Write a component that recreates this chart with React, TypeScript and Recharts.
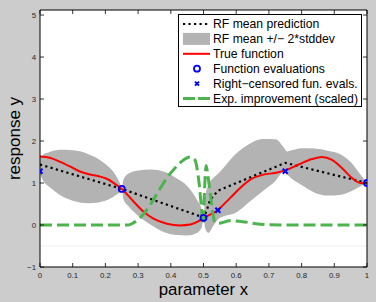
import React from 'react';
import { ComposedChart, Area, Line, Scatter, XAxis, YAxis, CartesianGrid, ReferenceLine } from 'recharts';

const bandX = [0, 0.01, 0.03, 0.06, 0.1, 0.15, 0.2, 0.23, 0.245, 0.25, 0.255, 0.27, 0.3, 0.34, 0.38, 0.42, 0.45, 0.48, 0.495, 0.5, 0.505, 0.515, 0.53, 0.545, 0.56, 0.6, 0.64, 0.68, 0.72, 0.745, 0.755, 0.77, 0.8, 0.84, 0.88, 0.92, 0.95, 0.98, 1.0];
const bandLow = [1.2, 1.05, 0.9, 0.72, 0.58, 0.52, 0.58, 0.7, 0.8, 0.86, 0.62, 0.45, 0.22, 0.0, -0.17, -0.24, -0.25, -0.19, -0.05, 0.17, -0.08, -0.19, -0.02, 0.14, 0.2, 0.3, 0.55, 0.8, 1.05, 1.26, 1.2, 1.1, 0.95, 0.77, 0.7, 0.72, 0.8, 0.92, 1.0];
const bandHigh = [1.6, 1.68, 1.74, 1.79, 1.78, 1.68, 1.45, 1.2, 0.98, 0.86, 1.08, 1.22, 1.3, 1.32, 1.27, 1.1, 0.93, 0.6, 0.35, 0.17, 0.65, 0.95, 1.12, 1.22, 1.35, 1.7, 1.93, 2.05, 2.04, 1.85, 1.75, 1.78, 1.83, 1.82, 1.77, 1.68, 1.5, 1.2, 1.0];

const meanX = [0, 0.25, 0.5, 0.51, 0.52, 0.545, 0.75, 1];
const meanY = [1.44, 0.86, 0.18, 0.35, 0.6, 0.82, 1.48, 1.0];

const trueX = [0, 0.03, 0.06, 0.09, 0.12, 0.15, 0.18, 0.207, 0.233, 0.25, 0.286, 0.316, 0.347, 0.388, 0.428, 0.46, 0.485, 0.5, 0.541, 0.581, 0.612, 0.643, 0.683, 0.719, 0.75, 0.791, 0.832, 0.862, 0.893, 0.923, 0.954, 0.98, 1];
const trueY = [1.63, 1.6, 1.51, 1.4, 1.28, 1.21, 1.16, 1.09, 0.96, 0.86, 0.56, 0.32, 0.15, 0.03, -0.01, 0.01, 0.09, 0.17, 0.34, 0.64, 0.88, 1.08, 1.2, 1.24, 1.3, 1.44, 1.57, 1.62, 1.55, 1.36, 1.12, 1.0, 0.99];

const eiX = [0, 0.1, 0.2, 0.27, 0.285, 0.306, 0.337, 0.362, 0.388, 0.413, 0.439, 0.459, 0.474, 0.48, 0.487, 0.493, 0.499, 0.503, 0.508, 0.513, 0.52, 0.528, 0.535, 0.545, 0.58, 0.62, 0.66, 0.7, 0.75, 1];
const eiY = [0, 0, 0, 0, 0.05, 0.17, 0.48, 0.8, 1.12, 1.36, 1.55, 1.62, 1.55, 1.36, 0.96, 0.48, 0.02, 0.8, 1.42, 1.2, 0.8, 0.3, 0.06, 0.04, 0.1, 0.08, 0.03, 0.005, 0, 0];

const evalX = [0.25, 0.5, 1];
const evalY = [0.86, 0.17, 1.0];
const censX = [0, 0.544, 0.75];
const censY = [1.28, 0.35, 1.28];

const xTicks = [0, 0.1, 0.2, 0.3, 0.4, 0.5, 0.6, 0.7, 0.8, 0.9, 1];
const xTickLabels = ['0', '0.1', '0.2', '0.3', '0.4', '0.5', '0.6', '0.7', '0.8', '0.9', '1'];
const yTicks = [-1, 0, 1, 2, 3, 4, 5];
const yTickLabels = ['\u22121', '0', '1', '2', '3', '4', '5'];

const legendLabels = ['RF mean prediction', 'RF mean +/\u2212 2*stddev', 'True function', 'Function evaluations', 'Right\u2212censored fun. evals.', 'Exp. improvement (scaled)'];

const FONT = '"Liberation Sans", Arial, Helvetica, sans-serif';

const bandData = bandX.map((x, i) => ({ x, range: [bandLow[i], bandHigh[i]] }));
const meanData = meanX.map((x, i) => ({ x, y: meanY[i] }));
const trueData = trueX.map((x, i) => ({ x, y: trueY[i] }));
const eiData = eiX.map((x, i) => ({ x, y: eiY[i] }));
const evalData = evalX.map((x, i) => ({ x, y: evalY[i] }));
const censData = censX.map((x, i) => ({ x, y: censY[i] }));

const xLabel = (v: number) => xTickLabels[xTicks.indexOf(v)] ?? String(v);
const yLabel = (v: number) => yTickLabels[yTicks.indexOf(v)] ?? String(v);

const BottomTick = (p: any) => (
  <g>
    <line x1={p.x} x2={p.x} y1={p.y} y2={p.y - 4} stroke="#000" strokeWidth={0.8} />
    <text x={p.x} y={p.y + 11} textAnchor="middle" fontSize={7.8} fontFamily={FONT} fill="#262626">{xLabel(p.payload.value)}</text>
  </g>
);
const TopTick = (p: any) => (
  <line x1={p.x} x2={p.x} y1={p.y} y2={p.y + 4} stroke="#000" strokeWidth={0.8} />
);
const LeftTick = (p: any) => (
  <g>
    <line x1={p.x} x2={p.x + 4} y1={p.y} y2={p.y} stroke="#000" strokeWidth={0.8} />
    <text x={p.x - 4} y={p.y + 3} textAnchor="end" fontSize={7.8} fontFamily={FONT} fill="#262626">{yLabel(p.payload.value)}</text>
  </g>
);
const RightTick = (p: any) => (
  <line x1={p.x} x2={p.x - 4} y1={p.y} y2={p.y} stroke="#000" strokeWidth={0.8} />
);

const CircleShape = (p: any) => (
  <circle cx={p.cx} cy={p.cy} r={3} fill="none" stroke="#0000ff" strokeWidth={1.8} />
);
const CrossShape = (p: any) => (
  <g stroke="#0000ff" strokeWidth={2}>
    <line x1={p.cx - 2.5} y1={p.cy - 2.5} x2={p.cx + 2.5} y2={p.cy + 2.5} />
    <line x1={p.cx - 2.5} y1={p.cy + 2.5} x2={p.cx + 2.5} y2={p.cy - 2.5} />
  </g>
);

const Legend = () => {
  const rowY = (i: number) => 10 + i * 14.9;
  return (
    <svg width={184} height={93} style={{ position: 'absolute', left: 178, top: 14 }}>
      <rect x={0.5} y={0.5} width={183} height={92} fill="#fff" stroke="#000" strokeWidth={1} />
      <line x1={5} x2={32} y1={rowY(0)} y2={rowY(0)} stroke="#000" strokeWidth={2.2} strokeDasharray="2.2 3.3" />
      <rect x={5} y={rowY(1) - 6} width={27} height={12} fill="#b3b3b3" />
      <line x1={5} x2={32} y1={rowY(2)} y2={rowY(2)} stroke="#ff0000" strokeWidth={2} />
      <circle cx={19} cy={rowY(3)} r={3} fill="none" stroke="#0000ff" strokeWidth={1.8} />
      <g stroke="#0000ff" strokeWidth={2}>
        <line x1={17} y1={rowY(4) - 2} x2={21} y2={rowY(4) + 2} />
        <line x1={17} y1={rowY(4) + 2} x2={21} y2={rowY(4) - 2} />
      </g>
      <line x1={5} x2={32} y1={rowY(5)} y2={rowY(5)} stroke="#4db34d" strokeWidth={3} strokeDasharray="12 3" />
      {legendLabels.map((t, i) => (
        <text key={t} x={35} y={rowY(i) + 4.3} fontSize={12.2} fontFamily={FONT} fill="#000">{t}</text>
      ))}
    </svg>
  );
};

export default function App() {
  return (
    <div style={{ position: 'absolute', left: 0, top: 0, width: 376, height: 302, background: '#cccccc', overflow: 'hidden' }}>
      <ComposedChart width={376} height={302} margin={{ top: 5, right: 4, bottom: 10, left: 20 }}>
        <CartesianGrid fill="#ffffff" horizontal={false} vertical={false} stroke="none" />
        <XAxis xAxisId="b" dataKey="x" type="number" domain={[0, 1]} ticks={xTicks} height={25} tickSize={0} tickMargin={0} tickLine={false} tick={<BottomTick />} axisLine={{ stroke: '#000' }} allowDataOverflow interval={0} />
        <XAxis xAxisId="t" dataKey="x" type="number" orientation="top" domain={[0, 1]} ticks={xTicks} height={5} tickSize={0} tickMargin={0} tickLine={false} tick={<TopTick />} axisLine={{ stroke: '#000' }} allowDataOverflow interval={0} />
        <YAxis yAxisId="l" type="number" domain={[-1, 5.12]} ticks={yTicks} width={20} tickSize={0} tickMargin={0} tickLine={false} tick={<LeftTick />} axisLine={{ stroke: '#000' }} allowDataOverflow interval={0} />
        <YAxis yAxisId="r" type="number" orientation="right" domain={[-1, 5.12]} ticks={yTicks} width={5} tickSize={0} tickMargin={0} tickLine={false} tick={<RightTick />} axisLine={{ stroke: '#000' }} allowDataOverflow interval={0} />
        <ReferenceLine xAxisId="b" yAxisId="l" y={-0.5} stroke="#efefef" strokeWidth={1} />
        <Area xAxisId="b" yAxisId="l" data={bandData} dataKey="range" type="monotone" fill="#b3b3b3" fillOpacity={1} stroke="none" isAnimationActive={false} />
        <Line xAxisId="b" yAxisId="l" data={meanData} dataKey="y" type="linear" stroke="#000" strokeWidth={2.2} strokeDasharray="2.2 3.3" dot={false} isAnimationActive={false} />
        <Line xAxisId="b" yAxisId="l" data={trueData} dataKey="y" type="monotone" stroke="#ff0000" strokeWidth={2} dot={false} isAnimationActive={false} />
        <Scatter xAxisId="b" yAxisId="l" data={evalData} dataKey="y" shape={<CircleShape />} isAnimationActive={false} />
        <Scatter xAxisId="b" yAxisId="l" data={censData} dataKey="y" shape={<CrossShape />} isAnimationActive={false} />
        <Line xAxisId="b" yAxisId="l" data={eiData} dataKey="y" type="monotone" stroke="#4db34d" strokeWidth={3} strokeDasharray="12 5" dot={false} isAnimationActive={false} />
      </ComposedChart>
      <svg width={376} height={302} style={{ position: 'absolute', left: 0, top: 0, pointerEvents: 'none' }}>
        <text x={203.5} y={295} textAnchor="middle" fontSize={16.8} fontFamily={FONT} fill="#000">parameter x</text>
        <text x={19.5} y={138.5} textAnchor="middle" fontSize={17} fontFamily={FONT} fill="#000" transform="rotate(-90 19.5 138.5)">response y</text>
      </svg>
      <Legend />
    </div>
  );
}
